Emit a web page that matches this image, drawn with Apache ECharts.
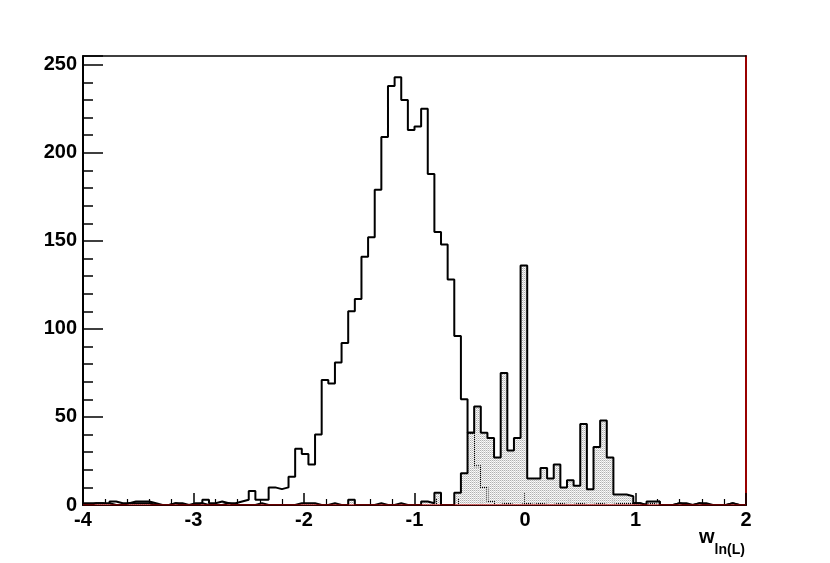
<!DOCTYPE html>
<html>
<head>
<meta charset="utf-8">
<script src="https://cdn.jsdelivr.net/npm/echarts@6/dist/echarts.min.js"></script>
<style>
  html, body { margin: 0; padding: 0; background: #fff; }
  #chart { width: 830px; height: 563px; }
</style>
</head>
<body>
<div id="chart"></div>
<script>
// histogram binning: 100 bins from -4 to 2
const xMin = -4
const xMax = 2
const binWidth = 0.06
const xTicks = [-4, -3, -2, -1, 0, 1, 2]
const yTicks = [0, 50, 100, 150, 200, 250]

// open histogram (black outline)
const mainCounts = [
  1, 1, 1, 0, 2, 1, 1, 2, 2, 2,
  1, 0, 0, 1, 1, 0, 1, 1, 3, 1,
  2, 1, 1, 2, 3, 8, 3, 3, 10, 9,
  10, 16, 32, 29, 23, 40, 71, 69, 81, 92,
  110, 117, 141, 152, 179, 209, 238, 243, 230, 213,
  215, 225, 188, 155, 148, 128, 96, 60, 41, 22,
  10, 2, 0, 1, 0, 0, 1, 0, 1, 0,
  0, 1, 0, 0, 1, 0, 0, 1, 0, 0,
  1, 1, 1, 1, 0, 1, 2, 0, 0, 1,
  1, 0, 1, 1, 0, 0, 0, 1, 0, 0
]

// shaded histogram (grey fill)
const shadedCounts = [
  0, 1, 1, 1, 0, 0, 1, 1, 1, 1,
  0, 0, 0, 1, 0, 0, 0, 1, 0, 0,
  0, 1, 0, 0, 0, 0, 1, 0, 0, 0,
  0, 0, 1, 1, 1, 0, 0, 1, 0, 0,
  3, 0, 0, 0, 1, 0, 0, 1, 0, 0,
  0, 2, 1, 7, 0, 0, 7, 18, 41, 56,
  41, 38, 27, 75, 31, 38, 136, 15, 15, 21,
  15, 23, 10, 14, 11, 46, 9, 33, 48, 27,
  6, 6, 5, 1, 0, 2, 2, 0, 0, 1,
  0, 0, 1, 0, 0, 0, 0, 1, 0, 0
]

// empty red histogram sitting on the axis
const redCounts = [
  0, 0, 0, 0, 0, 0, 0, 0, 0, 0, 0, 0, 0, 0, 0, 0, 0, 0, 0, 0,
  0, 0, 0, 0, 0, 0, 0, 0, 0, 0, 0, 0, 0, 0, 0, 0, 0, 0, 0, 0,
  0, 0, 0, 0, 0, 0, 0, 0, 0, 0, 0, 0, 0, 0, 0, 0, 0, 0, 0, 0,
  0, 0, 0, 0, 0, 0, 0, 0, 0, 0, 0, 0, 0, 0, 0, 0, 0, 0, 0, 0,
  0, 0, 0, 0, 0, 0, 0, 0, 0, 0, 0, 0, 0, 0, 0, 0, 0, 0, 0, 0
]

// bin low edges + closing point at xMax
const toSteps = (counts) => {
  const pts = counts.map((v, k) => [+(xMin + k * binWidth).toFixed(3), v])
  pts.push([xMax, counts[counts.length - 1]])
  return pts
}

// stipple fill like ROOT's grey pattern
const makePattern = () => {
  const c = document.createElement('canvas')
  c.width = 2
  c.height = 2
  const ctx = c.getContext('2d')
  ctx.fillStyle = '#b0b0b0'
  ctx.fillRect(0, 0, 1, 1)
  ctx.fillStyle = '#d6d6d6'
  ctx.fillRect(1, 1, 1, 1)
  ctx.fillStyle = '#ececec'
  ctx.fillRect(1, 0, 1, 1)
  return c
}

const font = 'Liberation Sans'
const labelStyle = { fontFamily: font, fontWeight: 'bold', fontSize: 20, color: '#000' }

const chart = echarts.init(document.getElementById('chart'))

chart.setOption({
  animation: false,
  backgroundColor: '#fff',
  title: {
    text: '{w|w}{s|ln(L)}',
    left: 699,
    top: 527,
    padding: 0,
    textStyle: {
      rich: {
        w: { fontFamily: font, fontWeight: 'bold', fontSize: 20, color: '#000', lineHeight: 20, verticalAlign: 'top' },
        s: { fontFamily: font, fontWeight: 'bold', fontSize: 14, color: '#000', lineHeight: 30, verticalAlign: 'bottom' }
      }
    }
  },
  grid: { left: 83, right: 84, top: 56, bottom: 58 },
  xAxis: [
    {
      type: 'value',
      position: 'bottom',
      min: xMin,
      max: xMax,
      interval: 1,
      axisLine: { onZero: false, lineStyle: { color: '#000', width: 2 } },
      axisTick: { inside: true, length: 12, lineStyle: { color: '#000', width: 1.5 } },
      minorTick: { show: true, splitNumber: 5, length: 6, lineStyle: { color: '#000', width: 1.2 } },
      splitLine: { show: false },
      axisLabel: {
        ...labelStyle,
        margin: 5,
        showMinLabel: true,
        showMaxLabel: true,
        formatter: (v) => (xTicks.includes(v) ? String(v) : '')
      }
    },
    {
      type: 'value',
      position: 'top',
      min: xMin,
      max: xMax,
      axisLine: { onZero: false, lineStyle: { color: '#000', width: 1.5 } },
      axisTick: { show: false },
      axisLabel: { show: false },
      splitLine: { show: false }
    }
  ],
  yAxis: [
    {
      type: 'value',
      position: 'left',
      min: 0,
      max: 255,
      interval: 50,
      axisLine: { show: true, onZero: false, lineStyle: { color: '#000', width: 2 } },
      axisTick: { show: true, inside: true, length: 20, lineStyle: { color: '#000', width: 1.5 } },
      splitLine: { show: false },
      axisLabel: {
        ...labelStyle,
        margin: 6,
        formatter: (v) => (yTicks.includes(v) ? String(v) : '')
      }
    },
    {
      type: 'value',
      position: 'left',
      min: 0,
      max: 255,
      interval: 10,
      axisLine: { show: false, onZero: false },
      axisTick: { show: true, inside: true, length: 10, lineStyle: { color: '#000', width: 1.5 } },
      axisLabel: { show: false },
      splitLine: { show: false }
    },
    {
      type: 'value',
      position: 'right',
      min: 0,
      max: 255,
      axisLine: { show: true, onZero: false, lineStyle: { color: '#990000', width: 2 } },
      axisTick: { show: false },
      axisLabel: { show: false },
      splitLine: { show: false }
    }
  ],
  series: [
    {
      name: 'main',
      type: 'line',
      step: 'end',
      z: 2,
      showSymbol: false,
      lineStyle: { color: '#000', width: 2 },
      data: toSteps(mainCounts)
    },
    {
      name: 'shaded',
      type: 'line',
      step: 'end',
      z: 3,
      showSymbol: false,
      lineStyle: { color: '#000', width: 2 },
      areaStyle: { color: { image: makePattern(), repeat: 'repeat' }, opacity: 1 },
      data: toSteps(shadedCounts)
    },
    {
      name: 'red',
      type: 'line',
      step: 'end',
      z: 4,
      showSymbol: false,
      lineStyle: { color: '#cc0000', width: 1.2 },
      data: toSteps(redCounts)
    }
  ]
})
</script>
</body>
</html>
